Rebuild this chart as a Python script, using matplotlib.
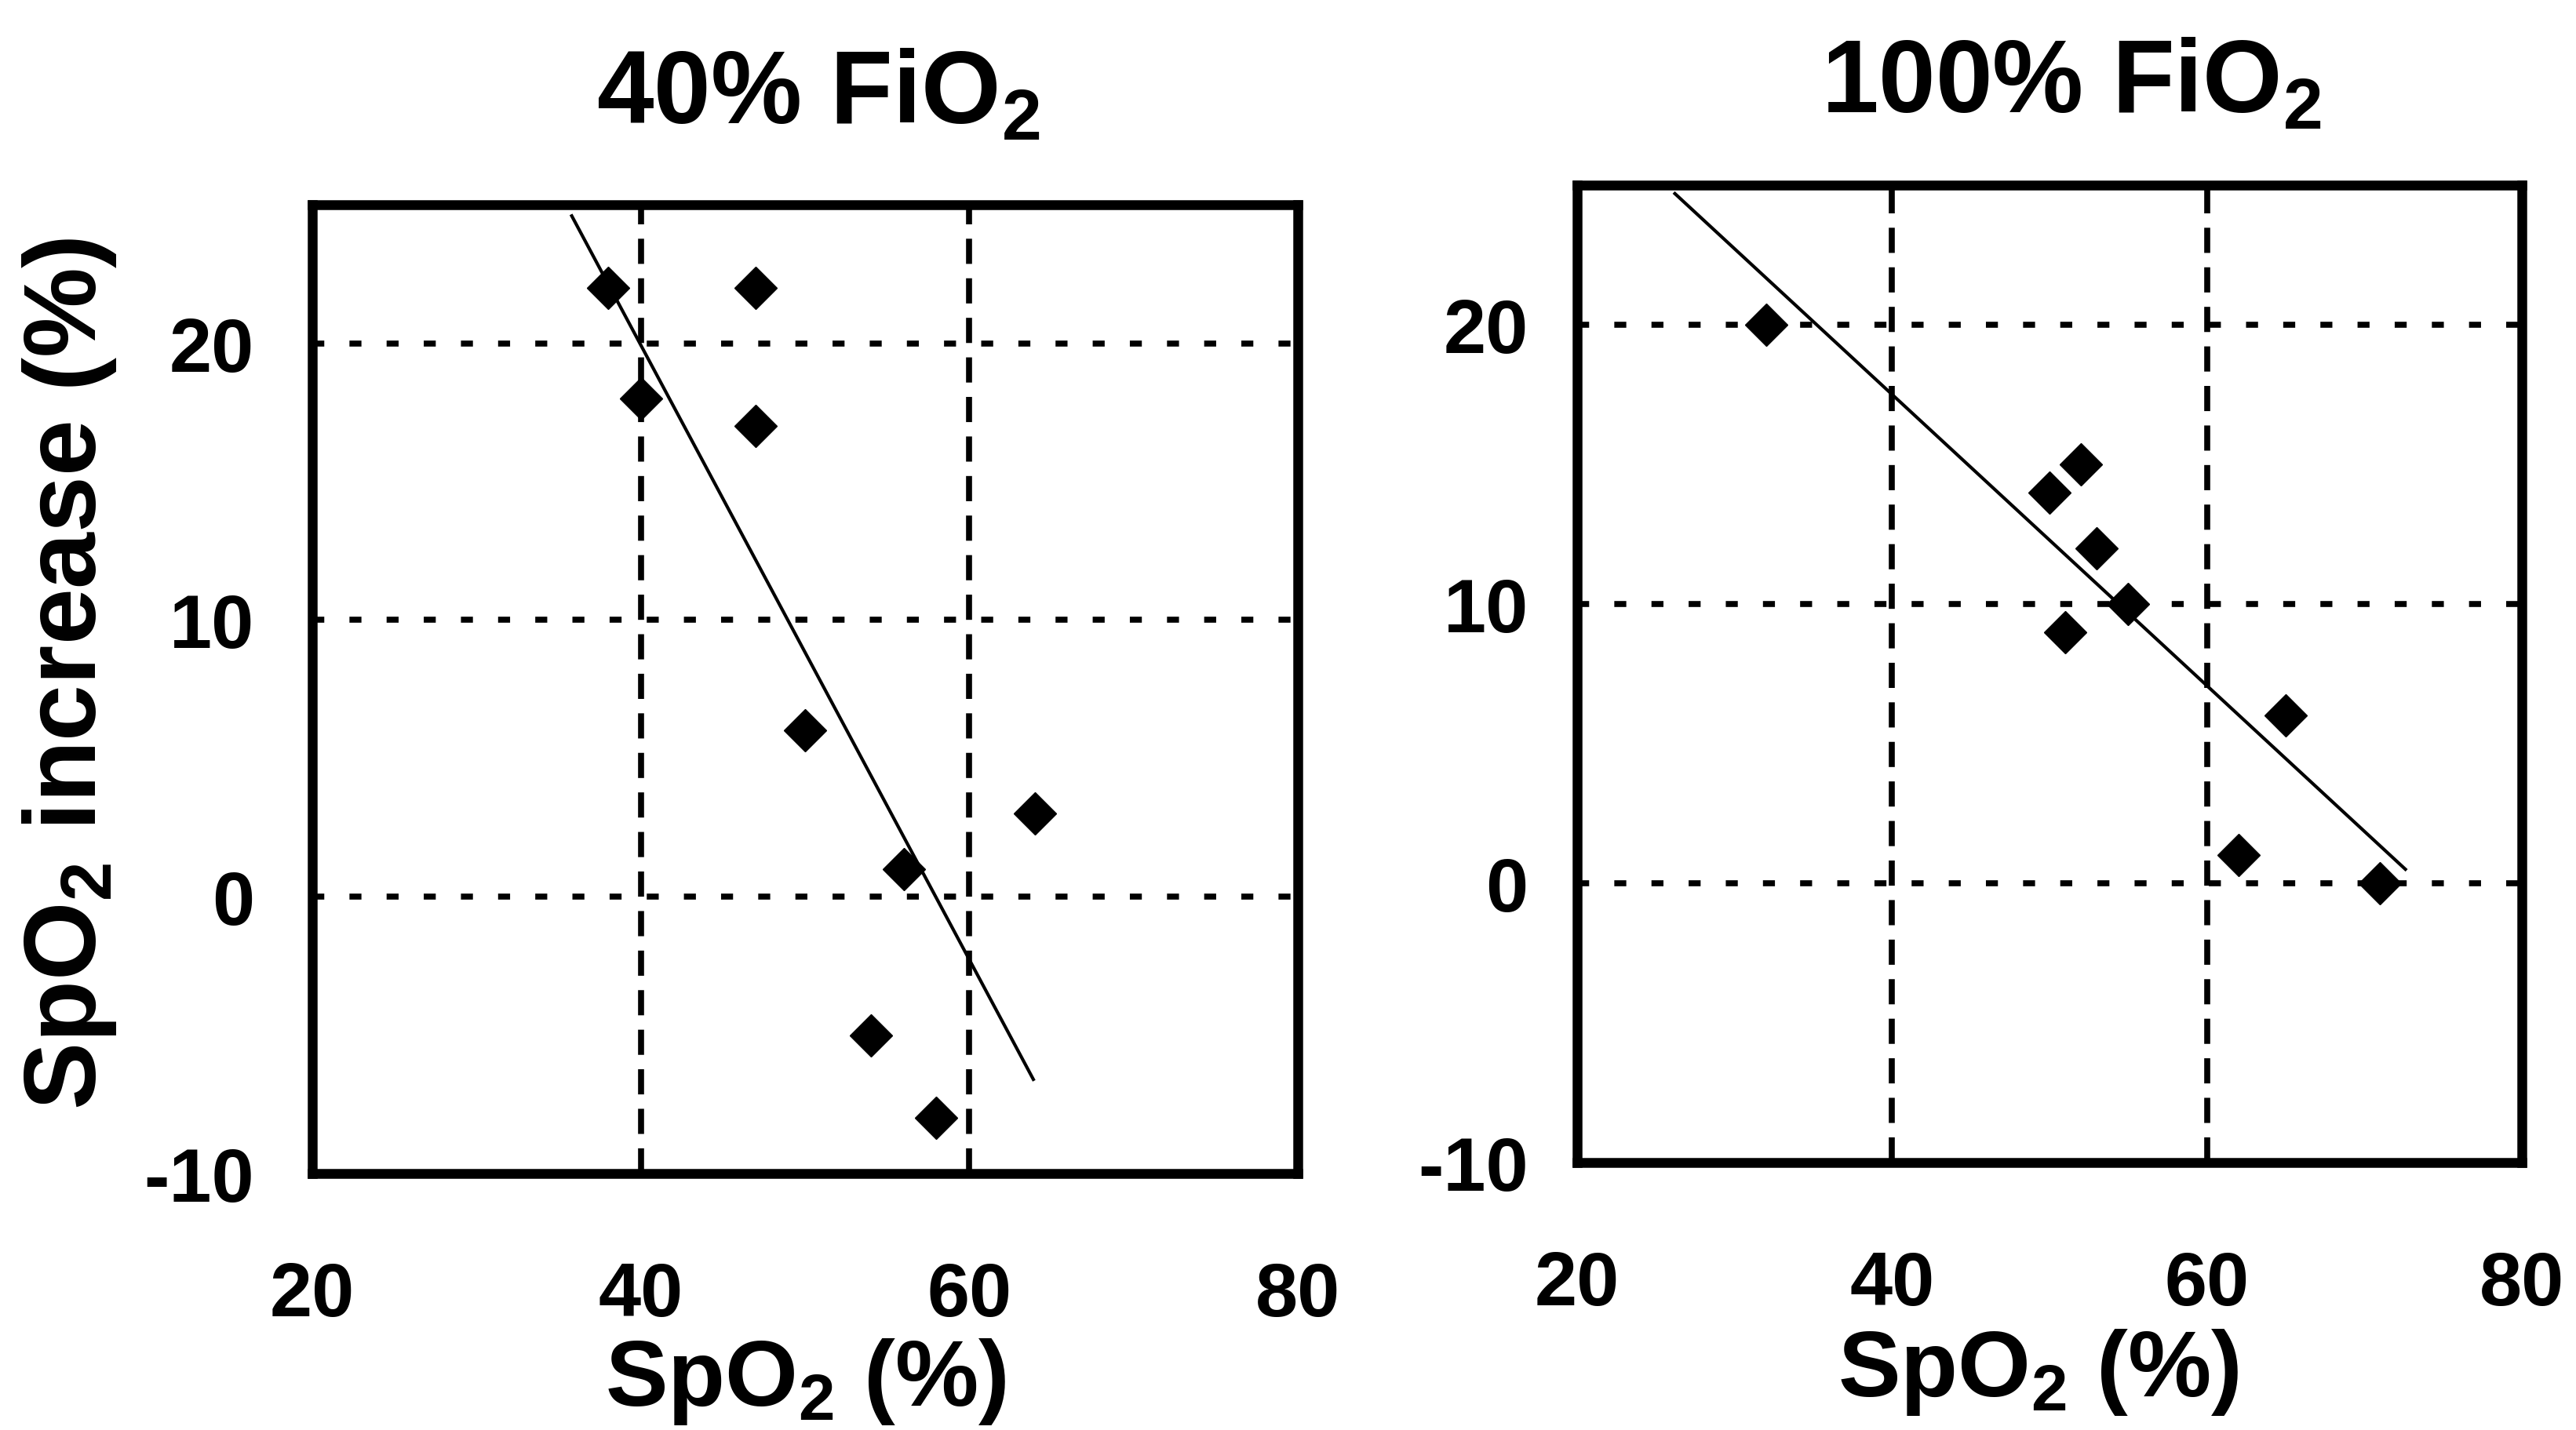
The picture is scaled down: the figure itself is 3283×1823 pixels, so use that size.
import matplotlib
matplotlib.use('Agg')
import matplotlib.pyplot as plt

# SpO2 increase vs baseline SpO2, two FiO2 levels

plt.rcParams['font.family'] = ['Liberation Sans', 'DejaVu Sans']
plt.rcParams['font.weight'] = 'bold'
plt.rcParams['mathtext.fontset'] = 'custom'
plt.rcParams['mathtext.rm'] = 'Liberation Sans:bold'
plt.rcParams['mathtext.default'] = 'rm'

# data
spo2_40 = [38, 40, 47, 47, 50, 56, 64, 54, 58]
incr_40 = [22, 18, 22, 17, 6, 1, 3, -5, -8]
fit40_x = [35.8, 63.9]
fit40_y = [24.6, -6.6]

spo2_100 = [32, 50, 52, 53, 55, 51, 65, 62, 71]
incr_100 = [20, 14, 15, 12, 10, 9, 6, 1, 0]
fit100_x = [26.2, 72.6]
fit100_y = [24.7, 0.5]

xticks = [20, 40, 60, 80]
yticks = [-10, 0, 10, 20]
ytick_labels = ['-10', '0', '10', '20']
titles = ['40% FiO$_2$', '100% FiO$_2$']
xlabel = 'SpO$_2$ (%)'
ylabel = 'SpO$_2$ increase (%)'

fig = plt.figure(figsize=(32.83, 18.24), dpi=100)
ax1 = fig.add_axes([0.1212, 0.1793, 0.3826, 0.677])
ax2 = fig.add_axes([0.6123, 0.187, 0.3667, 0.683])


def style_panel(ax, xs, ys, fx, fy, ypad):
    ax.set_xlim(20, 80)
    ax.set_ylim(-10, 25)
    for v in xticks[1:-1]:
        ax.axvline(v, color='black', lw=5.5, dashes=(4.2, 2.4), zorder=1)
    for v in yticks[1:]:
        ax.axhline(v, color='black', lw=5.5, dashes=(2.0, 4.2), zorder=1)
    ax.plot(fx, fy, color='black', lw=3, zorder=2)
    ax.plot(xs, ys, ls='none', marker='D', ms=28, color='black', zorder=3)
    ax.set_xticks(xticks)
    ax.set_yticks(yticks)
    ax.set_yticklabels(ytick_labels)
    ax.tick_params(axis='x', length=0, labelsize=70, pad=80)
    ax.tick_params(axis='y', length=0, labelsize=70, pad=ypad)
    for s in ax.spines.values():
        s.set_linewidth(9)
    ax.set_xlabel(xlabel, fontsize=86, fontweight='bold')
    ax.xaxis.label.set_va('baseline')


style_panel(ax1, spo2_40, incr_40, fit40_x, fit40_y, 53)
style_panel(ax2, spo2_100, incr_100, fit100_x, fit100_y, 45)

ax1.xaxis.set_label_coords(0.3128, 0.0175, transform=fig.transFigure)
ax2.xaxis.set_label_coords(0.7914, 0.024, transform=fig.transFigure)

ax1.set_ylabel(ylabel, fontsize=93, fontweight='bold')
ax1.yaxis.set_label_coords(0.046, 0.529, transform=fig.transFigure)

fig.text(0.3177, 0.914, titles[0], fontsize=94, fontweight='bold',
         ha='center', va='baseline')
fig.text(0.804, 0.9216, titles[1], fontsize=94, fontweight='bold',
         ha='center', va='baseline')

fig.savefig('out.png', dpi=100)
